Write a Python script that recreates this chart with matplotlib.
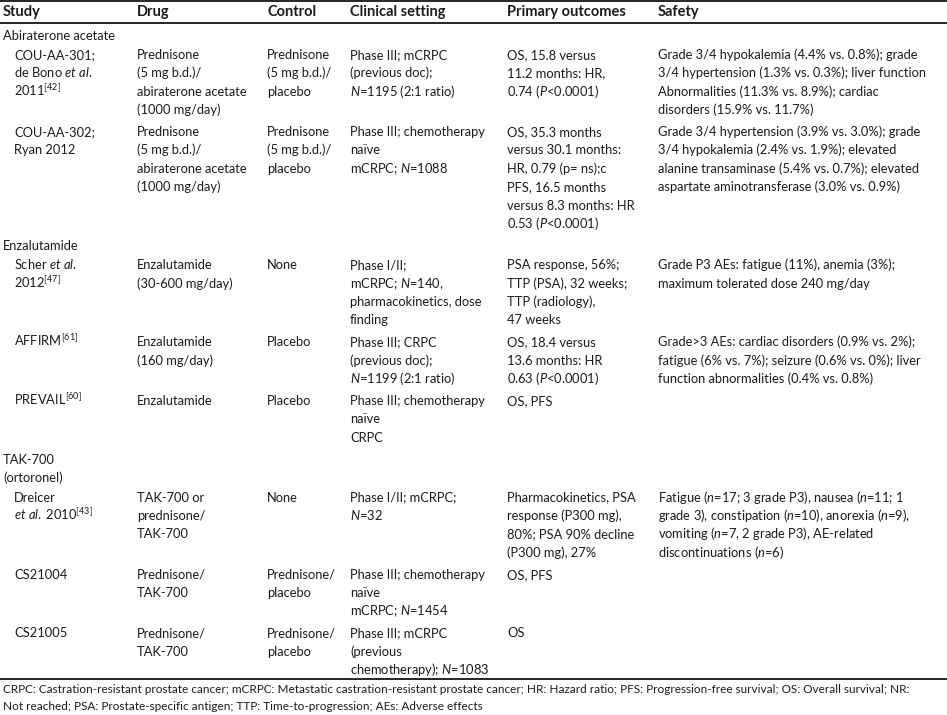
import matplotlib
matplotlib.use("Agg")
import matplotlib.pyplot as plt

plt.rcParams['font.family'] = ['Lato', 'DejaVu Sans']
plt.rcParams['mathtext.fontset'] = 'custom'
plt.rcParams['mathtext.rm'] = 'Lato'
plt.rcParams['mathtext.it'] = 'Lato:italic'
plt.rcParams['mathtext.bf'] = 'Lato:bold'

headers = ["Study", "Drug", "Control", "Clinical setting", "Primary outcomes", "Safety"]

# each entry: ("section", title lines) or ("row", [study, drug, control, setting, outcomes, safety])
rows = [
    ("section", ["Abiraterone acetate"]),
    ("row", [
        ["COU-AA-301;", r"de Bono $\mathit{et\ al.}$", r"2011$^{[42]}$"],
        ["Prednisone", "(5 mg b.d.)/", "abiraterone acetate", "(1000 mg/day)"],
        ["Prednisone", "(5 mg b.d.)/", "placebo"],
        ["Phase III; mCRPC", "(previous doc);", r"$\mathit{N}$=1195 (2:1 ratio)"],
        ["OS, 15.8 versus", "11.2 months: HR,", r"0.74 ($\mathit{P}$<0.0001)"],
        ["Grade 3/4 hypokalemia (4.4% vs. 0.8%); grade",
         "3/4 hypertension (1.3% vs. 0.3%); liver function",
         "Abnormalities (11.3% vs. 8.9%); cardiac",
         "disorders (15.9% vs. 11.7%)"],
    ]),
    ("row", [
        ["COU-AA-302;", "Ryan 2012"],
        ["Prednisone", "(5 mg b.d.)/", "abiraterone acetate", "(1000 mg/day)"],
        ["Prednisone", "(5 mg b.d.)/", "placebo"],
        ["Phase III; chemotherapy", "naïve", r"mCRPC; $\mathit{N}$=1088"],
        ["OS, 35.3 months", "versus 30.1 months:", "HR, 0.79 (p= ns);c", "PFS, 16.5 months",
         "versus 8.3 months: HR", r"0.53 ($\mathit{P}$<0.0001)"],
        ["Grade 3/4 hypertension (3.9% vs. 3.0%); grade",
         "3/4 hypokalemia (2.4% vs. 1.9%); elevated",
         "alanine transaminase (5.4% vs. 0.7%); elevated",
         "aspartate aminotransferase (3.0% vs. 0.9%)"],
    ]),
    ("section", ["Enzalutamide"]),
    ("row", [
        [r"Scher $\mathit{et\ al.}$", r"2012$^{[47]}$"],
        ["Enzalutamide", "(30-600 mg/day)"],
        ["None"],
        ["Phase I/II;", r"mCRPC; $\mathit{N}$=140,", "pharmacokinetics, dose", "finding"],
        ["PSA response, 56%;", "TTP (PSA), 32 weeks;", "TTP (radiology),", "47 weeks"],
        ["Grade P3 AEs: fatigue (11%), anemia (3%);", "maximum tolerated dose 240 mg/day"],
    ]),
    ("row", [
        [r"AFFIRM$^{[61]}$"],
        ["Enzalutamide", "(160 mg/day)"],
        ["Placebo"],
        ["Phase III; CRPC", "(previous doc);", r"$\mathit{N}$=1199 (2:1 ratio)"],
        ["OS, 18.4 versus", "13.6 months: HR", r"0.63 ($\mathit{P}$<0.0001)"],
        ["Grade>3 AEs: cardiac disorders (0.9% vs. 2%);",
         "fatigue (6% vs. 7%); seizure (0.6% vs. 0%); liver",
         "function abnormalities (0.4% vs. 0.8%)"],
    ]),
    ("row", [
        [r"PREVAIL$^{[60]}$"],
        ["Enzalutamide"],
        ["Placebo"],
        ["Phase III; chemotherapy", "naïve", "CRPC"],
        ["OS, PFS"],
        [],
    ]),
    ("section", ["TAK-700", "(ortoronel)"]),
    ("row", [
        ["Dreicer", r"$\mathit{et\ al.}$ 2010$^{[43]}$"],
        ["TAK-700 or", "prednisone/", "TAK-700"],
        ["None"],
        ["Phase I/II; mCRPC;", r"$\mathit{N}$=32"],
        ["Pharmacokinetics, PSA", "response (P300 mg),", "80%; PSA 90% decline", "(P300 mg), 27%"],
        [r"Fatigue ($\mathit{n}$=17; 3 grade P3), nausea ($\mathit{n}$=11; 1",
         r"grade 3), constipation ($\mathit{n}$=10), anorexia ($\mathit{n}$=9),",
         r"vomiting ($\mathit{n}$=7, 2 grade P3), AE-related",
         r"discontinuations ($\mathit{n}$=6)"],
    ]),
    ("row", [
        ["CS21004"],
        ["Prednisone/", "TAK-700"],
        ["Prednisone/", "placebo"],
        ["Phase III; chemotherapy", "naïve", r"mCRPC; $\mathit{N}$=1454"],
        ["OS, PFS"],
        [],
    ]),
    ("row", [
        ["CS21005"],
        ["Prednisone/", "TAK-700"],
        ["Prednisone/", "placebo"],
        ["Phase III; mCRPC", "(previous", r"chemotherapy); $\mathit{N}$=1083"],
        ["OS"],
        [],
    ]),
]

footnote = [
    "CRPC: Castration-resistant prostate cancer; mCRPC: Metastatic castration-resistant prostate cancer; "
    "HR: Hazard ratio; PFS: Progression-free survival; OS: Overall survival; NR:",
    "Not reached; PSA: Prostate-specific antigen; TTP: Time-to-progression; AEs: Adverse effects",
]

W, H = 947, 715
fig = plt.figure(figsize=(W / 100, H / 100), dpi=100)
ax = fig.add_axes([0, 0, 1, 1])
ax.set_xlim(0, W)
ax.set_ylim(H, 0)
ax.axis('off')

col_x = [3, 137, 267, 350, 507, 658]
indent = 14
fs = 9.3
line_h = 18.4
color = '#1e1a1b'
base_off = 4.5  # baseline below visual centre

def put(x, yc, s, size=fs, **kw):
    ax.text(x, yc + base_off, s, fontsize=size, color=color, va='baseline', ha='left', **kw)

# rules
ax.plot([0, W], [1, 1], color='black', lw=1.2)
ax.plot([0, W], [22.5, 22.5], color='black', lw=1.2)

for x, h in zip(col_x, headers):
    put(x, 11.5, h, size=10.5, fontweight='bold')

y = 35
for kind, content in rows:
    if kind == "section":
        for line in content:
            put(col_x[0], y, line)
            y += line_h
        y += 1
    else:
        n = max(len(c) for c in content)
        for ci, cell in enumerate(content):
            x = col_x[ci] + (indent - col_x[0] if ci == 0 else 0)
            for li, line in enumerate(cell):
                put(x, y + li * line_h, line)
        y += n * line_h + 3.5

ax.plot([0, W], [678.5, 678.5], color='black', lw=1.2)
for i, line in enumerate(footnote):
    ax.text(3, 689 + i * 17.5 + 4, line, fontsize=8.5, color=color, va='baseline', ha='left')

fig.savefig("out.png", dpi=100)
